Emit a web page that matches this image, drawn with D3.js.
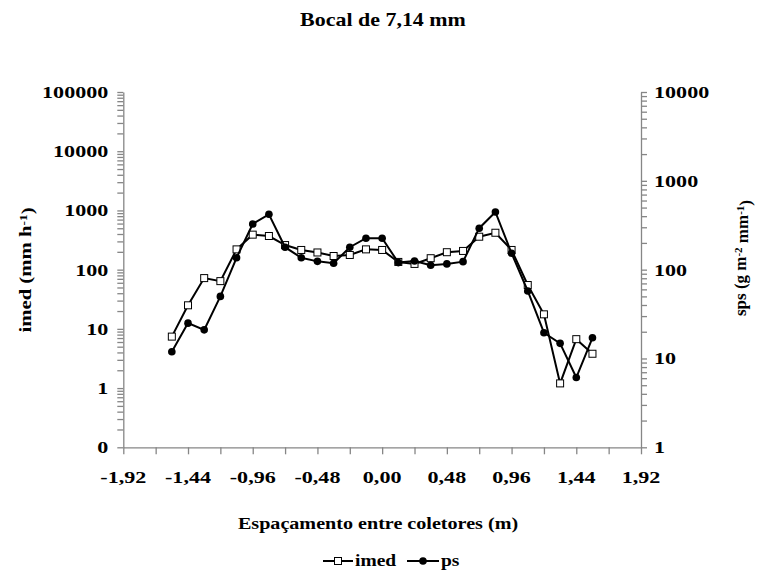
<!DOCTYPE html>
<html>
<head>
<meta charset="utf-8">
<script src="https://cdn.jsdelivr.net/npm/d3@7/dist/d3.min.js"></script>
<style>
  html, body { margin: 0; padding: 0; background: #fff; }
  svg text { font-family: "Liberation Serif", "Times New Roman", serif; font-weight: bold; fill: #000; }
</style>
</head>
<body>
<svg id="chart" width="766" height="576"></svg>
<script>
// Collector positions (m)
const positions = [-1.56, -1.44, -1.32, -1.20, -1.08, -0.96, -0.84, -0.72, -0.60, -0.48, -0.36, -0.24, -0.12, 0.00,
                   0.12, 0.24, 0.36, 0.48, 0.60, 0.72, 0.84, 0.96, 1.08, 1.20, 1.32, 1.44, 1.56];
// Mean application intensity (mm h-1), left axis
const imed = [7.4, 25, 72, 64, 220, 390, 370, 260, 215, 195, 170, 177, 220, 215,
              135, 125, 156, 197, 207, 360, 420, 215, 55, 17.6, 1.2, 6.7, 3.8];
// ps (g m-2 mm-1), right axis
const ps = [11.9, 25, 21, 50, 136, 327, 420, 179, 136, 124, 118, 179, 226, 226,
            120, 125, 112, 116, 123, 293, 446, 153, 57.5, 19.5, 14.8, 6.1, 17.1];

const xTicks = [-1.92, -1.68, -1.44, -1.20, -0.96, -0.72, -0.48, -0.24, 0.00, 0.24, 0.48, 0.72, 0.96, 1.20, 1.44, 1.68, 1.92];
const xLabelTicks = [-1.92, -1.44, -0.96, -0.48, 0.00, 0.48, 0.96, 1.44, 1.92];
const xTickLabels = ["-1,92", "-1,44", "-0,96", "-0,48", "0,00", "0,48", "0,96", "1,44", "1,92"];
const leftDecades = [0.1, 1, 10, 100, 1000, 10000, 100000];
const leftTickLabels = ["0", "1", "10", "100", "1000", "10000", "100000"];
const rightDecades = [1, 10, 100, 1000, 10000];
const rightTickLabels = ["1", "10", "100", "1000", "10000"];

const SX = 1.22;           // horizontal widening of the serif glyphs
const SXT = 1.3;           // widening for tick labels
const AXIS = "#868686";

const svg = d3.select("#chart");
const L = 123.3, R = 641, T = 92, B = 447.3;

const x = d3.scaleLinear().domain([-1.92, 1.92]).range([L, R]);
const yL = d3.scaleLog().domain([0.1, 100000]).range([B, T]);
const yR = d3.scaleLog().domain([1, 10000]).range([B, T]);

// log minor ticks (1..9 per decade)
function logTicks(lo, hi) {
  const out = [];
  for (let e = Math.round(Math.log10(lo)); e < Math.round(Math.log10(hi)); e++) {
    for (let m = 1; m < 10; m++) out.push(m * Math.pow(10, e));
  }
  out.push(hi);
  return out;
}

function styleAxis(g) {
  g.select(".domain").attr("stroke", AXIS).attr("stroke-width", 1.3);
  g.selectAll(".tick line").attr("stroke", AXIS).attr("stroke-width", 1.3);
  g.selectAll("text").remove();
}

// left axis
const gL = svg.append("g").attr("transform", `translate(${L},0)`)
  .call(d3.axisLeft(yL).tickValues(logTicks(0.1, 100000)).tickSize(6).tickSizeOuter(0));
styleAxis(gL);
leftDecades.forEach((v, i) => {
  svg.append("text")
    .attr("transform", `translate(${L - 15},${yL(v)}) scale(${SXT},1)`)
    .attr("text-anchor", "end").attr("dy", "0.35em")
    .style("font-size", "17px").text(leftTickLabels[i]);
});

// right axis
const gR = svg.append("g").attr("transform", `translate(${R},0)`)
  .call(d3.axisRight(yR).tickValues(logTicks(1, 10000)).tickSize(6).tickSizeOuter(0));
styleAxis(gR);
rightDecades.forEach((v, i) => {
  svg.append("text")
    .attr("transform", `translate(${R + 13},${yR(v)}) scale(${SXT},1)`)
    .attr("text-anchor", "start").attr("dy", "0.35em")
    .style("font-size", "17px").text(rightTickLabels[i]);
});

// x axis
const gX = svg.append("g").attr("transform", `translate(0,${B})`)
  .call(d3.axisBottom(x).tickValues(xTicks).tickSize(7).tickSizeOuter(0));
styleAxis(gX);
xLabelTicks.forEach((v, i) => {
  svg.append("text")
    .attr("transform", `translate(${x(v)},${B + 36}) scale(${SXT},1)`)
    .attr("text-anchor", "middle")
    .style("font-size", "17px").text(xTickLabels[i]);
});

// title
svg.append("text")
  .attr("transform", `translate(383,26) scale(${SX},1)`)
  .attr("text-anchor", "middle").style("font-size", "18px")
  .text("Bocal de 7,14 mm");

// x axis title
svg.append("text")
  .attr("transform", `translate(378,529) scale(${SX},1)`)
  .attr("text-anchor", "middle").style("font-size", "16.5px")
  .text("Espaçamento entre coletores (m)");

// left axis title
const tl = svg.append("text")
  .attr("transform", `translate(31,270) rotate(-90) scale(${SX},1)`)
  .attr("text-anchor", "middle").style("font-size", "17px");
tl.append("tspan").text("imed (mm h");
tl.append("tspan").attr("dy", "-0.4em").style("font-size", "11px").text("-1");
tl.append("tspan").attr("dy", "0.4em").text(")");

// right axis title
const tr = svg.append("text")
  .attr("transform", `translate(746,258) rotate(-90) scale(1.0,1)`)
  .attr("text-anchor", "middle").style("font-size", "17px");
tr.append("tspan").text("sps (g m");
tr.append("tspan").attr("dy", "-0.4em").style("font-size", "11px").text("-2");
tr.append("tspan").attr("dy", "0.4em").text(" mm");
tr.append("tspan").attr("dy", "-0.4em").style("font-size", "11px").text("-1");
tr.append("tspan").attr("dy", "0.4em").text(")");

// series
const lineL = d3.line().x((d, i) => x(positions[i])).y(d => yL(d));
const lineR = d3.line().x((d, i) => x(positions[i])).y(d => yR(d));

svg.append("path").datum(imed).attr("d", lineL)
  .attr("fill", "none").attr("stroke", "#000").attr("stroke-width", 2);
svg.selectAll("rect.imed").data(imed).enter().append("rect").attr("class", "imed")
  .attr("x", (d, i) => x(positions[i]) - 3.5).attr("y", d => yL(d) - 3.5)
  .attr("width", 7).attr("height", 7)
  .attr("fill", "#fff").attr("stroke", "#000").attr("stroke-width", 1);

svg.append("path").datum(ps).attr("d", lineR)
  .attr("fill", "none").attr("stroke", "#000").attr("stroke-width", 2);
svg.selectAll("circle.ps").data(ps).enter().append("circle").attr("class", "ps")
  .attr("cx", (d, i) => x(positions[i])).attr("cy", d => yR(d))
  .attr("r", 3.8).attr("fill", "#000");

// legend
const lg = svg.append("g").attr("transform", "translate(0,561)");
lg.append("line").attr("x1", 323).attr("x2", 353).attr("y1", 0).attr("y2", 0)
  .attr("stroke", "#000").attr("stroke-width", 2);
lg.append("rect").attr("x", 334.5).attr("y", -3.5).attr("width", 7).attr("height", 7)
  .attr("fill", "#fff").attr("stroke", "#000").attr("stroke-width", 1);
lg.append("text").attr("transform", `translate(355,5) scale(${SX},1)`)
  .style("font-size", "16px").text("imed");
lg.append("line").attr("x1", 407).attr("x2", 439).attr("y1", 0).attr("y2", 0)
  .attr("stroke", "#000").attr("stroke-width", 2);
lg.append("circle").attr("cx", 423).attr("cy", 0).attr("r", 3.8).attr("fill", "#000");
lg.append("text").attr("transform", `translate(441,5) scale(${SX},1)`)
  .style("font-size", "16px").text("ps");
</script>
</body>
</html>
